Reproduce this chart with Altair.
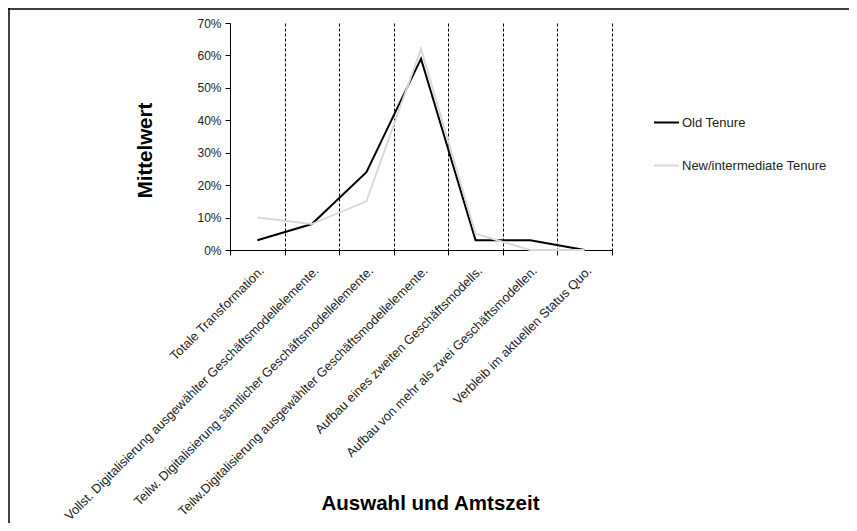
import altair as alt
import pandas as pd

categories = [
    "Totale Transformation.",
    "Vollst. Digitalisierung ausgewählter Geschäftsmodellelemente.",
    "Teilw. Digitalisierung sämtlicher Geschäftsmodellelemente.",
    "Teilw.Digitalisierung ausgewählter Geschäftsmodellelemente.",
    "Aufbau eines zweiten Geschäftsmodells.",
    "Aufbau von mehr als zwei Geschäftsmodellen.",
    "Verbleib im aktuellen Status Quo.",
]
series_names = ["Old Tenure", "New/intermediate Tenure"]
old_tenure = [0.03, 0.08, 0.24, 0.59, 0.03, 0.03, 0.00]
new_tenure = [0.10, 0.08, 0.15, 0.62, 0.05, 0.00, 0.00]
y_ticks = [0, 0.1, 0.2, 0.3, 0.4, 0.5, 0.6, 0.7]

rows = []
for name, vals in zip(series_names, [old_tenure, new_tenure]):
    for c, v in zip(categories, vals):
        rows.append({"Kategorie": c, "Serie": name, "Wert": v})
df = pd.DataFrame(rows)

FONT = "Liberation Sans"

lines = alt.Chart(df).mark_line(strokeWidth=2).encode(
    x=alt.X(
        "Kategorie:N",
        sort=categories,
        scale=alt.Scale(type="band", paddingInner=0, paddingOuter=0),
        axis=alt.Axis(
            title="Auswahl und Amtszeit",
            tickBand="extent",
            grid=True,
            gridColor="black",
            gridDash=[3, 2],
            gridWidth=1,
            domainColor="black",
            tickColor="black",
            tickSize=5,
            labelAngle=315,
            labelFont=FONT,
            labelFontSize=12.8,
            labelColor="#222222",
            labelPadding=9,
            labelLimit=0,
            titleFont=FONT,
            titleFontSize=20.5,
            titleFontWeight="bold",
            titleColor="black",
            titleX=200,
            titleY=253,
            titleBaseline="middle",
            titleAlign="center",
        ),
    ),
    y=alt.Y(
        "Wert:Q",
        scale=alt.Scale(domain=[0, 0.7], nice=False),
        axis=alt.Axis(
            title="Mittelwert",
            format=".0%",
            values=y_ticks,
            grid=False,
            domainColor="black",
            tickColor="black",
            tickSize=5,
            labelFont=FONT,
            labelFontSize=12,
            labelColor="#222222",
            labelPadding=4,
            titleFont=FONT,
            titleFontSize=20.5,
            titleFontWeight="bold",
            titleColor="black",
            titleX=-85,
            titleY=127,
            titleAngle=270,
            titleAlign="center",
            titleBaseline="middle",
        ),
    ),
    color=alt.Color(
        "Serie:N",
        scale=alt.Scale(domain=series_names, range=["black", "#d9d9d9"]),
        legend=alt.Legend(
            title=None,
            orient="none",
            legendX=423,
            legendY=86,
            symbolType="stroke",
            symbolSize=625,
            symbolStrokeWidth=2,
            labelFont=FONT,
            labelFontSize=13,
            labelColor="#222222",
            labelOffset=2,
            rowPadding=22,
        ),
    ),
)

border_top = alt.Chart(alt.Data(values=[{}])).mark_rule(color="black", strokeWidth=1.5).encode(
    x=alt.value(-222), x2=alt.value(700), y=alt.value(-14)
)
border_left = alt.Chart(alt.Data(values=[{}])).mark_rule(color="black", strokeWidth=1.5).encode(
    x=alt.value(-221), y=alt.value(-15), y2=alt.value(520)
)

chart = alt.layer(lines, border_top, border_left).properties(
    width=382,
    height=227,
    autosize=alt.AutoSizeParams(type="none"),
    padding={"left": 222, "top": 15, "right": 237, "bottom": 273},
    background="white",
).configure_view(stroke=None)

chart.save("out.html", embed_options={"renderer": "svg", "actions": False})
